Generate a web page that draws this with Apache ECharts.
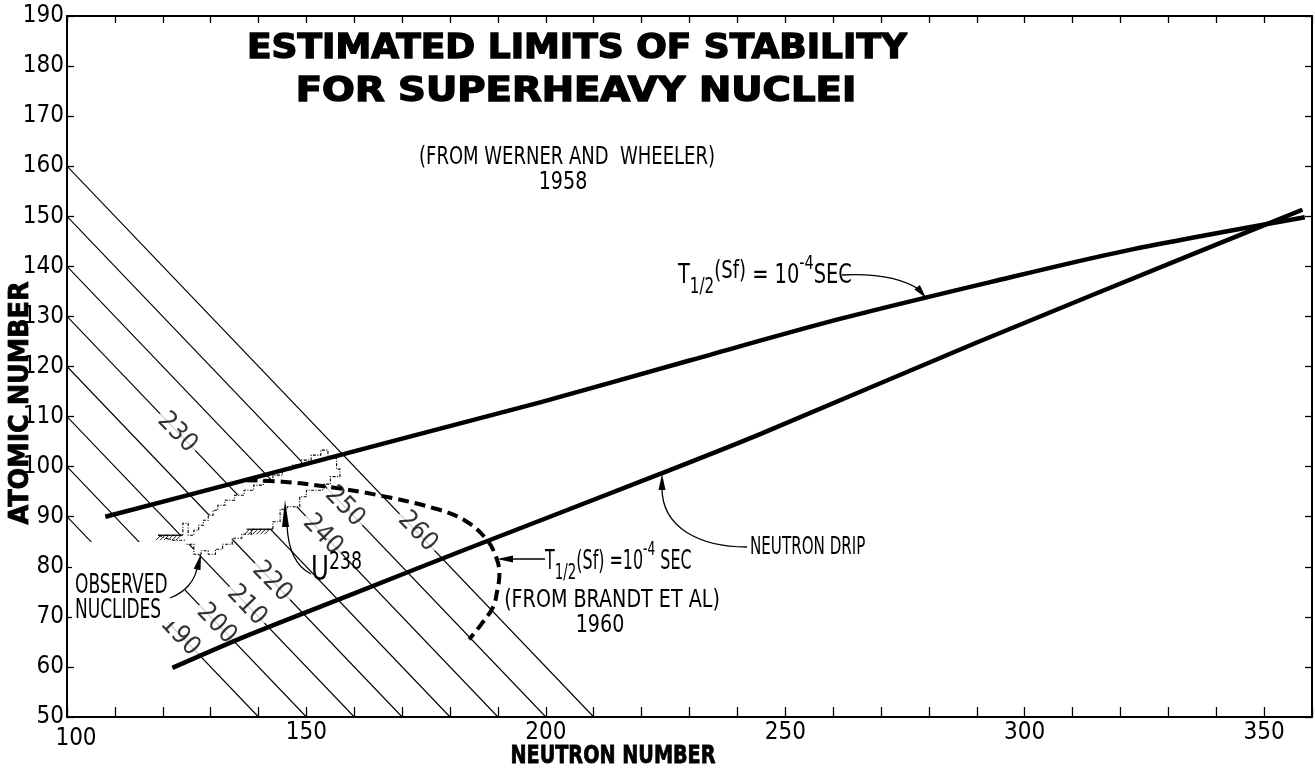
<!DOCTYPE html>
<html><head><meta charset="utf-8">
<script src="https://cdn.jsdelivr.net/npm/echarts/dist/echarts.min.js"></script>
<style>html,body{margin:0;padding:0;background:#fff}#c{width:1315px;height:770px}</style>
</head><body><div id="c"></div>
<script>
// ---------- data ----------
const xTickLabels = [100, 150, 200, 250, 300, 350];
// Werner & Wheeler T1/2(Sf)=1e-4 s limit
const wwN = [108, 136, 170, 199, 230, 261, 293, 321, 358.5];
const wwZ = [90, 97, 105.6, 112.9, 121.2, 129.4, 136.9, 143.1, 149.8];
// Neutron drip line
const dripN = [122, 138, 160, 182, 224, 245, 290, 336, 358];
const dripZ = [59.8, 66.4, 74.7, 83, 98.6, 106.6, 124.8, 142.8, 151.3];
// Brandt et al. 1960 (dashed)
const brandtN = [137.5, 145, 153.5, 165, 177, 183, 187.6, 189.7, 190.3, 189.8, 189, 186.5, 184];
const brandtZ = [97.3, 97, 96.1, 94.3, 91.6, 89.3, 85.5, 81.7, 78.5, 75, 72, 68.5, 65.5];
// Isobars (constant mass number A)
const isobarA = [190, 200, 210, 220, 230, 240, 250, 260];
const isobarStartN = [100, 100, 100, 100, 100, 100, 100, 100];
const isobarStartZ = [90, 100, 110, 120, 130, 140, 150, 160];
const isobarEndN = [140, 150, 160, 170, 180, 190, 200, 210];
const isobarEndZ = [50, 50, 50, 50, 50, 50, 50, 50];
const isobarLabelN = [123.6, 131.2, 137.5, 142.8, 123, 153.4, 158, 173.2];
const isobarLabelZ = [66.2, 68.6, 72.3, 77, 106.8, 86.4, 92, 87];
// Observed nuclides region (staircase outline)
const nucN = [119,124.2,124.2,125.3,125.3,126.5,126.5,127.5,127.5,128.5,128.5,129.5,129.5,130.5,130.5,131.5,131.5,133,133,135,135,137,137,139,139,141,141,143,143,145,145,147,147,149,149,151,151,153,153,154.5,154.5,156.3,156.3,157,157,155,155,153.4,
  153.4,150,150,148.6,148.6,146,146,144.5,144.5,143,143,138.5,138.5,136.5,136.5,134.5,134.5,132.5,132.5,131,131,129.5,129.5,128,128,126.5,126.5,124.5,124.5,122];
const nucZ = [86.3,86.3,88.7,88.7,86.3,86.3,87.3,87.3,88.3,88.3,89.3,89.3,90.3,90.3,91.3,91.3,92.3,92.3,93.3,93.3,94.3,94.3,95.3,95.3,96.3,96.3,97.3,97.3,98.3,98.3,99.3,99.3,100.3,100.3,101.3,101.3,102.3,102.3,103.3,103.3,101.7,101.7,99.5,99.5,98,98,96.5,96.5,
  95.3,95.3,94,94,92,92,91.5,91.5,89,89,87.5,87.5,86.5,86.5,85.7,85.7,84.5,84.5,83.5,83.5,82.5,82.5,83.2,83.2,82.5,82.5,84.5,84.5,85.3,85.3];
// hatched edges of the region
const hatchN1 = [119, 137.5];
const hatchN2 = [124.2, 143];
const hatchZ = [86.3, 87.5];

// ---------- styling ----------
const NARROW = '"DejaVu Sans Condensed","Liberation Sans Narrow","Liberation Sans",sans-serif';
const HEAVY = '"DejaVu Sans","Liberation Sans",sans-serif';

const chart = echarts.init(document.getElementById('c'), null, {renderer: 'canvas'});
const zip = (a, b) => a.map((v, i) => [v, b[i]]);

function axisX(pos, labels) {
  return {
    type: 'value', min: 100, max: 360, interval: 10, position: pos,
    axisLine: {show: true, onZero: false, lineStyle: {color: '#000', width: 2}},
    axisTick: {show: true, inside: true, length: pos === 'bottom' ? 10 : 7, lineStyle: {color: '#000', width: 1.3}},
    axisLabel: {show: labels, color: '#000', fontSize: 24, fontFamily: NARROW, margin: 4,
      formatter: v => v === xTickLabels[0] ? '{first|' + v + '}' : (xTickLabels.indexOf(v) >= 0 ? String(v) : ''),
      rich: {first: {fontSize: 24, fontFamily: NARROW, color: '#000', padding: [6, 0, 0, 18]}}},
    splitLine: {show: false}
  };
}
function axisY(pos, labels) {
  return {
    type: 'value', min: 50, max: 190, interval: 10, position: pos,
    axisLine: {show: true, onZero: false, lineStyle: {color: '#000', width: 2}},
    axisTick: {show: true, inside: true, length: 7, lineStyle: {color: '#000', width: 1.3}},
    axisLabel: {show: labels, color: '#000', fontSize: 24, fontFamily: NARROW, margin: 3},
    splitLine: {show: false}
  };
}

function arrowHead(tx, ty, fx, fy, len, hw) {
  const dx = tx - fx, dy = ty - fy, d = Math.hypot(dx, dy);
  const ux = dx / d, uy = dy / d;
  const bx = tx - ux * len, by = ty - uy * len;
  return {type: 'polygon', z: 100, shape: {points: [[tx, ty], [bx - uy * hw, by + ux * hw], [bx + uy * hw, by - ux * hw]]}, style: {fill: '#000'}};
}
function curve(x1, y1, c1x, c1y, c2x, c2y, x2, y2, w) {
  return {type: 'bezierCurve', z: 100, shape: {x1, y1, cpx1: c1x, cpy1: c1y, cpx2: c2x, cpy2: c2y, x2, y2}, style: {stroke: '#000', lineWidth: w || 1.3, fill: null}};
}
function txt(x, y, text, font, align, props, extraStyle) {
  return Object.assign({type: 'text', z: 100, x, y, style: Object.assign({text, font, fill: '#000',
    textAlign: align || 'left', textVerticalAlign: 'middle'}, extraStyle || {})}, props || {});
}
const bold = {stroke: '#000', lineWidth: 1.4};

const option = {
  animation: false,
  backgroundColor: '#fff',
  grid: {left: 67, right: 2, top: 16, bottom: 53, containLabel: false},
  xAxis: [axisX('bottom', true), axisX('top', false)],
  yAxis: [axisY('left', true), axisY('right', false)],
  series: [
    {
      type: 'lines', coordinateSystem: 'cartesian2d', z: 2, silent: true,
      lineStyle: {color: '#000', width: 1.1, opacity: 1},
      data: isobarA.map((a, i) => ({coords: [[isobarStartN[i], isobarStartZ[i]], [isobarEndN[i], isobarEndZ[i]]]}))
    },
    {
      type: 'custom', z: 3, silent: true, data: [[nucN[0], nucZ[0]]],
      renderItem: (params, api) => ({
        type: 'polygon',
        shape: {points: nucN.map((n, i) => api.coord([n, nucZ[i]]))},
        style: {fill: '#fff', stroke: '#000', lineWidth: 1.1, lineDash: [3, 1.5, 1, 1.5]}
      })
    },
    {
      type: 'custom', z: 3, silent: true, data: hatchN1.map((n, i) => [n, hatchZ[i]]),
      renderItem: (params, api) => {
        const i = params.dataIndex;
        const p1 = api.coord([hatchN1[i], hatchZ[i]]);
        const p2 = api.coord([hatchN2[i], hatchZ[i]]);
        const ch = [{type: 'line', shape: {x1: p1[0], y1: p1[1], x2: p2[0], y2: p2[1]}, style: {stroke: '#000', lineWidth: 1.2}}];
        for (let x = p1[0] + 3; x <= p2[0]; x += 4) {
          ch.push({type: 'line', shape: {x1: x, y1: p1[1], x2: x - 5, y2: p1[1] + 5}, style: {stroke: '#000', lineWidth: 0.9}});
        }
        return {type: 'group', children: ch};
      }
    },
    {
      type: 'scatter', z: 3, symbolSize: 0, silent: true,
      data: isobarA.map((a, i) => [isobarLabelN[i], isobarLabelZ[i], a]),
      label: {show: true, position: 'inside', formatter: p => String(p.value[2]), rotate: -46,
        color: '#000', fontSize: 26, fontFamily: NARROW, backgroundColor: '#fff', padding: [0, 3]}
    },
    {
      type: 'line', z: 4, data: zip(wwN, wwZ), showSymbol: false, smooth: 0.3, silent: true,
      lineStyle: {color: '#000', width: 4.5}
    },
    {
      type: 'line', z: 4, data: zip(dripN, dripZ), showSymbol: false, smooth: 0.3, silent: true,
      lineStyle: {color: '#000', width: 4.5}
    },
    {
      type: 'line', z: 4, data: zip(brandtN, brandtZ), showSymbol: false, smooth: 0.4, silent: true,
      lineStyle: {color: '#000', width: 4, type: [11, 6]}
    }
  ],
  graphic: [
    // title
    txt(577, 49, 'ESTIMATED LIMITS OF STABILITY', 'bold 33px ' + HEAVY, 'center', {scaleX: 1.09}, bold),
    txt(576, 92, 'FOR SUPERHEAVY NUCLEI', 'bold 33px ' + HEAVY, 'center', {scaleX: 1.17}, bold),
    txt(567, 157, '(FROM WERNER AND  WHEELER)', '25px ' + NARROW, 'center', {scaleX: 0.8}),
    txt(563, 182, '1958', '25px ' + NARROW, 'center', {scaleX: 0.85}),
    // axis titles
    txt(613, 757, 'NEUTRON NUMBER', 'bold 24px ' + HEAVY, 'center', {scaleX: 0.8}, {stroke: '#000', lineWidth: 0.8}),
    txt(21, 403, 'ATOMIC NUMBER', 'bold 26px ' + HEAVY, 'center', {rotation: Math.PI / 2, scaleX: 0.98}, {stroke: '#000', lineWidth: 0.8}),
    // upper T1/2 annotation
    {type: 'text', z: 100, x: 678, y: 276, scaleX: 0.8, style: {
      text: '{m|T}{sub|1/2}{sf|(Sf)}{m| = 10}{sup|-4}{m|SEC}', fill: '#000', textAlign: 'left', textVerticalAlign: 'middle',
      rich: {
        m: {fontFamily: NARROW, fontSize: 27, lineHeight: 44, verticalAlign: 'middle', fill: '#000'},
        sf: {fontFamily: NARROW, fontSize: 25, verticalAlign: 'middle', padding: [0, 0, 10, 0], fill: '#000'},
        sup: {fontFamily: NARROW, fontSize: 20, lineHeight: 26, verticalAlign: 'top', fill: '#000'},
        sub: {fontFamily: NARROW, fontSize: 21, lineHeight: 18, verticalAlign: 'bottom', fill: '#000'}}}},
    curve(842, 275, 880, 273, 905, 280, 920, 290),
    arrowHead(926, 298, 917, 287, 14, 3.5),
    // neutron drip
    txt(750, 548, 'NEUTRON DRIP', '24px ' + NARROW, 'left', {scaleX: 0.7}),
    curve(747, 547, 700, 547, 662, 528, 662, 488),
    arrowHead(662, 474, 662, 490, 16, 3.5),
    // Brandt annotation
    {type: 'text', z: 100, x: 545, y: 562, scaleX: 0.68, style: {
      text: '{m|T}{sub|1/2}{m|(Sf) =10}{sup|-4}{m| SEC}', fill: '#000', textAlign: 'left', textVerticalAlign: 'middle',
      rich: {
        m: {fontFamily: NARROW, fontSize: 26, lineHeight: 44, verticalAlign: 'middle', fill: '#000'},
        sup: {fontFamily: NARROW, fontSize: 20, lineHeight: 24, verticalAlign: 'top', fill: '#000'},
        sub: {fontFamily: NARROW, fontSize: 22, lineHeight: 18, verticalAlign: 'bottom', fill: '#000'}}}},
    txt(612, 600, '(FROM BRANDT ET AL)', '25px ' + NARROW, 'center', {scaleX: 0.85}),
    txt(600, 625, '1960', '25px ' + NARROW, 'center', {scaleX: 0.85}),
    {type: 'line', z: 100, shape: {x1: 545, y1: 559, x2: 510, y2: 559}, style: {stroke: '#000', lineWidth: 1.3}},
    arrowHead(497, 559, 512, 559, 16, 3.5),
    // observed nuclides
    {type: 'rect', z: 90, shape: {x: 72, y: 542, width: 113, height: 80}, style: {fill: '#fff'}},
    txt(75, 586, 'OBSERVED', '27px ' + NARROW, 'left', {scaleX: 0.7}),
    txt(75, 611, 'NUCLIDES', '27px ' + NARROW, 'left', {scaleX: 0.7}),
    curve(170, 598, 186, 592, 195, 580, 197, 568),
    arrowHead(201, 554, 197, 570, 16, 3.5),
    // U238
    {type: 'text', z: 100, x: 311, y: 571, scaleX: 0.8, style: {text: '{u|U}{s|238}', rich: {
      u: {fontFamily: NARROW, fontSize: 34, lineHeight: 40, verticalAlign: 'middle', fill: '#000'},
      s: {fontFamily: NARROW, fontSize: 24, lineHeight: 28, verticalAlign: 'top', fill: '#000'}},
      fill: '#000', textAlign: 'left', textVerticalAlign: 'middle'}},
    curve(311, 574, 295, 566, 288, 548, 287, 525),
    {type: 'polygon', z: 100, shape: {points: [[285, 500], [282, 527], [289, 527]]}, style: {fill: '#000'}}
  ]
};
chart.setOption(option);
</script>
</body></html>
